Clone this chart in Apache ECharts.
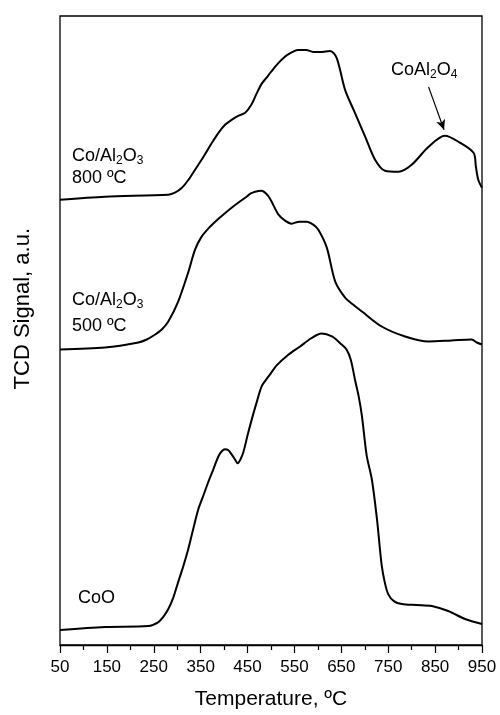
<!DOCTYPE html>
<html>
<head>
<meta charset="utf-8">
<script src="https://cdn.jsdelivr.net/npm/echarts@6/dist/echarts.min.js"></script>
<style>
  html, body { margin: 0; padding: 0; background: #fff; }
  #chart { width: 500px; height: 715px; }
</style>
</head>
<body>
<div id="chart"></div>
<script>
// TPR profiles (TCD signal, arbitrary units, curves offset vertically)
const temp800 = [50, 146, 281, 295, 310, 324, 338, 356, 374, 388, 402, 416, 430, 445, 458, 470, 480, 490, 500, 516, 535, 558, 575, 590, 605, 626, 640, 658, 679, 701, 722, 743, 772, 800, 836, 871, 900, 932, 937, 942, 950];
const signal800 = [446, 449, 451, 453, 458, 466, 476, 489, 503, 513, 521, 526, 530, 533, 541, 553, 562, 568, 574, 583, 591, 596, 596, 594, 594, 595, 588, 556, 533, 509, 486, 475, 474, 481, 499, 510, 504, 493, 479, 466, 458];

const temp500 = [50, 146, 217, 235, 253, 267, 281, 302, 324, 338, 352, 366, 381, 398, 416, 430, 445, 456, 466, 480, 490, 498, 516, 530, 544, 560, 576, 590, 601, 619, 637, 658, 675, 694, 736, 786, 836, 885, 928, 939, 950];
const signal500 = [296, 298, 303, 306, 311, 316, 324, 344, 374, 396, 409, 417, 424, 431, 438, 443, 448, 452, 454, 455, 452, 447, 431, 425, 422, 424, 424, 421, 416, 398, 364, 348, 341, 334, 319, 309, 304, 305, 306, 303, 301];

const tempCoO = [50, 146, 238, 260, 270, 281, 292, 302, 313, 324, 334, 345, 356, 366, 377, 388, 395, 402, 409, 416, 423, 429, 435, 441, 450, 459, 470, 480, 490, 498, 512, 535, 562, 585, 608, 630, 648, 661, 670, 679, 687, 694, 704, 715, 726, 736, 743, 750, 762, 779, 810, 843, 878, 914, 950];
const signalCoO = [15, 18, 19, 23, 28, 36, 48, 63, 79, 97, 116, 136, 150, 163, 176, 189, 194, 196, 195, 191, 186, 182, 186, 193, 210, 226, 244, 259, 266, 271, 280, 290, 299, 307, 312, 309, 302, 296, 286, 266, 249, 229, 190, 166, 126, 80, 62, 51, 44, 41, 40, 39, 34, 26, 21];

// CoAl2O4 arrow: tail and head in data coordinates
const arrowTail = [836, 559];
const arrowHead = [869, 516];

const xTicks = { min: 50, max: 950, step: 100 };

function pairs(xs, ys) { return xs.map((x, i) => [x, ys[i]]); }

const FONT = 'Liberation Sans, Arial, Helvetica, sans-serif';
const subRich = {
  n: { fontSize: 18, lineHeight: 22, fontFamily: FONT, color: '#000' },
  s: { fontSize: 12, lineHeight: 12, fontFamily: FONT, color: '#000', verticalAlign: 'bottom' }
};

function label(text, x, y) {
  return {
    type: 'text', left: x, top: y,
    style: { text: text, rich: subRich, fill: '#000', font: '18px ' + FONT }
  };
}

const lineStyle = { color: '#000', width: 2 };

function curve(name, xs, ys, extra) {
  return Object.assign({
    name: name, type: 'line', data: pairs(xs, ys),
    smooth: 0.3, showSymbol: false, lineStyle: lineStyle
  }, extra || {});
}

const chart = echarts.init(document.getElementById('chart'), null, { renderer: 'canvas' });
chart.setOption({
  backgroundColor: '#fff',
  animation: false,
  grid: { left: 60, right: 18, top: 16, bottom: 69, show: true, borderColor: '#000', borderWidth: 1.3, backgroundColor: 'transparent' },
  xAxis: {
    type: 'value', min: xTicks.min, max: xTicks.max, interval: xTicks.step,
    name: 'Temperature, ºC', nameLocation: 'middle', nameGap: 44,
    nameTextStyle: { fontSize: 21, color: '#000', fontFamily: FONT },
    axisLine: { lineStyle: { color: '#000', width: 1.3 } },
    axisTick: { show: true, length: 8, inside: false, lineStyle: { color: '#000', width: 1.2 } },
    minorTick: { show: true, splitNumber: 2, length: 5, lineStyle: { color: '#000', width: 1.2 } },
    splitLine: { show: false },
    axisLabel: { fontSize: 17, color: '#000', fontFamily: FONT, margin: 14, showMinLabel: true, showMaxLabel: true }
  },
  yAxis: {
    type: 'value', min: 0, max: 630,
    axisLine: { show: false }, axisTick: { show: false }, axisLabel: { show: false }, splitLine: { show: false }
  },
  series: [
    curve('Co/Al2O3 800', temp800, signal800, {
      markLine: {
        silent: true, symbol: ['none', 'arrow'], symbolSize: [7, 10],
        label: { show: false },
        lineStyle: { color: '#000', width: 1.2, type: 'solid' },
        data: [[{ coord: arrowTail }, { coord: arrowHead }]]
      }
    }),
    curve('Co/Al2O3 500', temp500, signal500),
    curve('CoO', tempCoO, signalCoO)
  ],
  graphic: [
    label('{n|Co/Al}{s|2}{n|O}{s|3}', 72, 147),
    label('{n|800 ºC}', 72, 169),
    label('{n|Co/Al}{s|2}{n|O}{s|3}', 72, 291),
    label('{n|500 ºC}', 72, 317),
    label('{n|CoO}', 78, 589),
    label('{n|CoAl}{s|2}{n|O}{s|4}', 391, 61),
    {
      type: 'text', left: 12, top: 228, rotation: Math.PI / 2,
      style: { text: 'TCD Signal, a.u.', fill: '#000', font: '22px ' + FONT }
    }
  ]
});
</script>
</body>
</html>
